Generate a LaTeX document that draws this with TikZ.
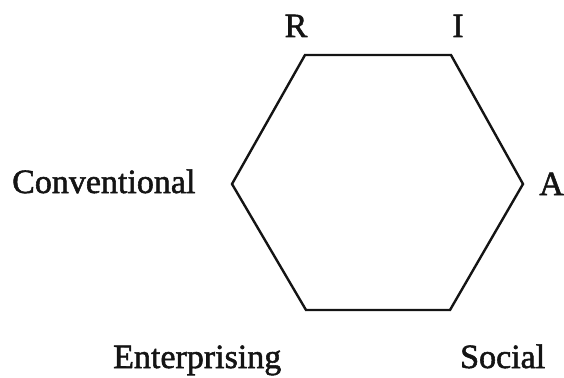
\documentclass[tikz,border=0pt]{standalone}
\usepackage{fontspec}
\setmainfont{Liberation Serif}
\newfontfamily\hxfont{Liberation Serif}[FakeBold=1.6]
\usepackage{tikz}
\usetikzlibrary{calc}
\definecolor{hxink}{HTML}{141414}
\tikzset{
  hxlabel/.style={font=\hxfont\fontsize{34}{40}\selectfont, text=hxink, inner sep=0pt},
  hxedge/.style={draw=hxink, line width=2.4pt, line join=miter},
}

\begin{document}
\begin{tikzpicture}[x=1pt,y=-1pt]
  \useasboundingbox (0,0) rectangle (564,377);
  % corners of the hexagon
  \coordinate (r) at (305,55);
  \coordinate (i) at (451,55);
  \coordinate (a) at (523,184);
  \coordinate (s) at (450,310);
  \coordinate (e) at (306,310);
  \coordinate (c) at (232,184);
  \draw[hxedge] (r) -- (i) -- (a) -- (s) -- (e) -- (c) -- cycle;

  \node[hxlabel,anchor=base] (lr) at (296,37) {R};
  \node[hxlabel,anchor=base] (li) at (458,37) {I};
  \node[hxlabel,anchor=base west] (la) at (539,195) {A};
  \node[hxlabel,anchor=base west] (lc) at (12,193) {Conventional};
  \node[hxlabel,anchor=base west] (le) at (113,368) {Enterprising};
  \node[hxlabel,anchor=base west] (ls) at (460,368) {Social};
\end{tikzpicture}
\end{document}
